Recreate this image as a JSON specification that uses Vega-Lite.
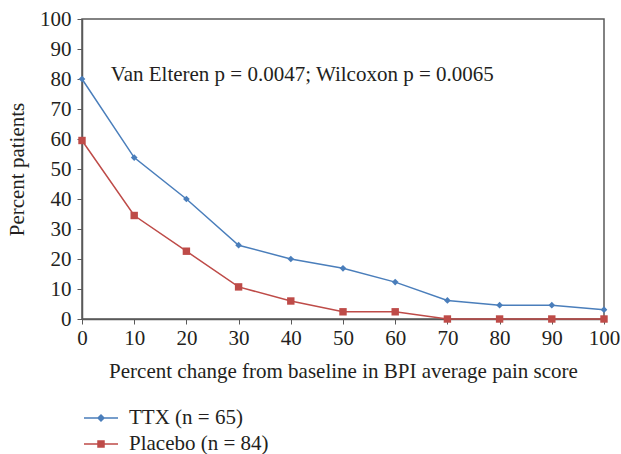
{
  "$schema": "https://vega.github.io/schema/vega-lite/v6.json",
  "autosize": "none",
  "width": 522,
  "height": 300,
  "padding": {"left": 82, "top": 19, "right": 17, "bottom": 135},
  "background": "white",
  "config": {
    "font": "Liberation Serif",
    "view": {"stroke": "#595959", "strokeWidth": 1.5},
    "axis": {
      "grid": false,
      "domainColor": "#595959",
      "domainWidth": 1.5,
      "tickColor": "#595959",
      "tickSize": 5,
      "labelFont": "Liberation Serif",
      "labelFontSize": 21,
      "labelColor": "#231f20",
      "titleFont": "Liberation Serif",
      "titleFontSize": 21,
      "titleFontWeight": "normal",
      "titleColor": "#231f20"
    },
    "legend": {
      "padding": 0,
      "orient": "none",
      "legendX": 8,
      "legendY": 388,
      "direction": "vertical",
      "symbolSize": 400,
      "symbolStrokeWidth": 1.5,
      "labelFont": "Liberation Serif",
      "labelFontSize": 21,
      "labelColor": "#231f20",
      "labelOffset": 17,
      "rowPadding": 5
    }
  },
  "data": {
    "values": [
      {"x": 0, "y": 80.0, "series": "TTX (n = 65)"},
      {"x": 10, "y": 53.8, "series": "TTX (n = 65)"},
      {"x": 20, "y": 40.0, "series": "TTX (n = 65)"},
      {"x": 30, "y": 24.6, "series": "TTX (n = 65)"},
      {"x": 40, "y": 20.0, "series": "TTX (n = 65)"},
      {"x": 50, "y": 16.9, "series": "TTX (n = 65)"},
      {"x": 60, "y": 12.3, "series": "TTX (n = 65)"},
      {"x": 70, "y": 6.2, "series": "TTX (n = 65)"},
      {"x": 80, "y": 4.6, "series": "TTX (n = 65)"},
      {"x": 90, "y": 4.6, "series": "TTX (n = 65)"},
      {"x": 100, "y": 3.1, "series": "TTX (n = 65)"},
      {"x": 0, "y": 59.5, "series": "Placebo (n = 84)"},
      {"x": 10, "y": 34.5, "series": "Placebo (n = 84)"},
      {"x": 20, "y": 22.6, "series": "Placebo (n = 84)"},
      {"x": 30, "y": 10.7, "series": "Placebo (n = 84)"},
      {"x": 40, "y": 6.0, "series": "Placebo (n = 84)"},
      {"x": 50, "y": 2.4, "series": "Placebo (n = 84)"},
      {"x": 60, "y": 2.4, "series": "Placebo (n = 84)"},
      {"x": 70, "y": 0, "series": "Placebo (n = 84)"},
      {"x": 80, "y": 0, "series": "Placebo (n = 84)"},
      {"x": 90, "y": 0, "series": "Placebo (n = 84)"},
      {"x": 100, "y": 0, "series": "Placebo (n = 84)"}
    ]
  },
  "encoding": {
    "x": {
      "field": "x", "type": "quantitative",
      "scale": {"domain": [0, 100], "nice": false},
      "axis": {"values": [0,10,20,30,40,50,60,70,80,90,100], "title": "Percent change from baseline in BPI average pain score", "titlePadding": 12, "labelPadding": 3, "labelFlush": false}
    },
    "y": {
      "field": "y", "type": "quantitative",
      "scale": {"domain": [0, 100], "nice": false},
      "axis": {"values": [0,10,20,30,40,50,60,70,80,90,100], "title": "Percent patients", "titlePadding": 12, "labelPadding": 6}
    }
  },
  "layer": [
    {
      "mark": {"type": "line", "strokeWidth": 1.5},
      "encoding": {
        "stroke": {"field": "series", "type": "nominal", "legend": null,
          "scale": {"domain": ["Placebo (n = 84)", "TTX (n = 65)"], "range": ["#BE4B48", "#4A7EBB"]}}
      }
    },
    {
      "transform": [{"filter": "datum.series === 'TTX (n = 65)'"}],
      "mark": {"type": "point", "filled": true, "opacity": 1, "shape": "diamond", "size": 45, "fill": "#4A7EBB"},
      "encoding": {}
    },
    {
      "transform": [{"filter": "datum.series === 'Placebo (n = 84)'"}],
      "mark": {"type": "point", "filled": true, "opacity": 1, "shape": "square", "size": 55, "fill": "#BE4B48"},
      "encoding": {}
    },
    {
      "mark": {"type": "point", "filled": false, "strokeWidth": 1.5},
      "encoding": {
        "shape": {
          "field": "series", "type": "nominal",
          "scale": {"domain": ["TTX (n = 65)", "Placebo (n = 84)"], "range": [
            "M-1.7,0H1.7M0,-0.3L0.3,0L0,0.3L-0.3,0ZM0,-0.17L0.17,0L0,0.17L-0.17,0ZM0,-0.05L0.05,0L0,0.05L-0.05,0Z",
            "M-1.7,0H1.7M-0.3,-0.3H0.3V0.3H-0.3ZM-0.18,-0.18H0.18V0.18H-0.18ZM-0.07,-0.07H0.07V0.07H-0.07Z"
          ]},
          "legend": {"title": null, "labelFont": "Liberation Serif", "labelFontSize": 21, "encode": {"symbols": {"update": {"opacity": {"value": 1}, "strokeOpacity": {"value": 1}}}, "labels": {"update": {"font": {"value": "Liberation Serif"}}}}}
        },
        "color": {"field": "series", "type": "nominal",
          "scale": {"domain": ["TTX (n = 65)", "Placebo (n = 84)"], "range": ["#4A7EBB", "#BE4B48"]},
          "legend": {"title": null, "labelFont": "Liberation Serif", "labelFontSize": 21, "encode": {"symbols": {"update": {"opacity": {"value": 1}, "strokeOpacity": {"value": 1}}}, "labels": {"update": {"font": {"value": "Liberation Serif"}}}}}},
        "opacity": {"value": 0}
      }
    },
    {
      "data": {"values": [{"tx": 42.2, "ty": 81.3, "label": "Van Elteren p = 0.0047; Wilcoxon p = 0.0065"}]},
      "mark": {"type": "text", "font": "Liberation Serif", "fontSize": 21, "align": "center", "baseline": "middle"},
      "encoding": {
        "x": {"field": "tx", "type": "quantitative"},
        "y": {"field": "ty", "type": "quantitative"},
        "text": {"field": "label"},
        "color": {"value": "#231f20"}
      }
    }
  ]
}
